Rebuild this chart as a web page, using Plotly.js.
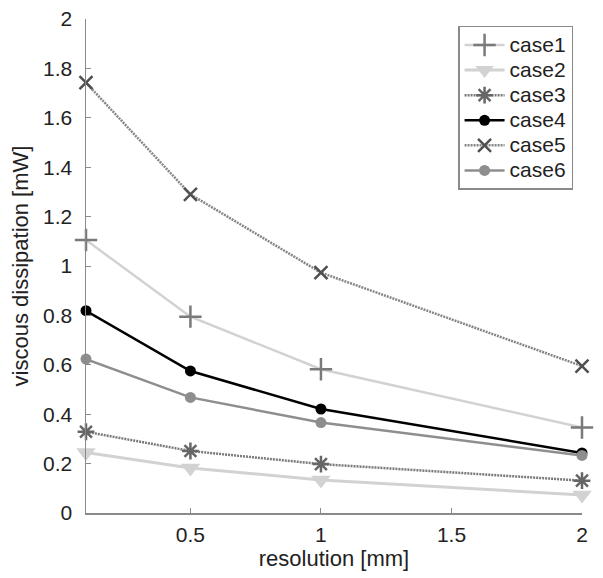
<!DOCTYPE html>
<html>
<head>
<meta charset="utf-8">
<script src="https://cdn.plot.ly/plotly-3.0.1.min.js"></script>
<style>html,body{margin:0;padding:0;background:#fff;}#chart{width:603px;height:578px;}</style>
</head>
<body>
<div id="chart"></div>
<script>
const resolution = [0.1, 0.5, 1, 2];
const case1 = [1.105, 0.795, 0.582, 0.346];
const case2 = [0.245, 0.182, 0.134, 0.073];
const case3 = [0.329, 0.251, 0.198, 0.131];
const case4 = [0.819, 0.575, 0.421, 0.243];
const case5 = [1.742, 1.290, 0.973, 0.595];
const case6 = [0.623, 0.468, 0.366, 0.233];
const names = ['case1','case2','case3','case4','case5','case6'];
const xTicks = [0.5, 1, 1.5, 2];
const yTicks = [0, 0.2, 0.4, 0.6, 0.8, 1, 1.2, 1.4, 1.6, 1.8, 2];

const styles = [
  {line:{color:'#d2d2d2', width:2.5}, marker:{symbol:'cross-thin-open', size:16, color:'#7a7a7a', line:{color:'#7a7a7a', width:2.5}}},
  {line:{color:'#d2d2d2', width:3}, marker:{symbol:'triangle-down', size:17, color:'#d2d2d2', line:{width:0}}},
  {line:{color:'#7a7a7a', width:2.5, dash:'2px,1px'}, marker:{symbol:'asterisk-open', size:14, color:'#666666', line:{color:'#666666', width:2.5}}},
  {line:{color:'#000000', width:2.5}, marker:{symbol:'circle', size:11, color:'#000000', line:{width:0}}},
  {line:{color:'#868686', width:2.5, dash:'2px,1px'}, marker:{symbol:'x-thin-open', size:13, color:'#505050', line:{color:'#505050', width:2.5}}},
  {line:{color:'#8e8e8e', width:2.5}, marker:{symbol:'circle', size:11, color:'#8e8e8e', line:{width:0}}}
];
const series = [case1, case2, case3, case4, case5, case6];
const traces = series.map((ys, i) => ({
  x: resolution, y: ys,
  name: '<span style="font-size:21px">' + names[i] + '</span>',
  type: 'scatter', mode: 'lines+markers',
  line: styles[i].line, marker: styles[i].marker, cliponaxis: false
}));

const font = {family: 'Arial, "Liberation Sans", sans-serif', color: '#222222'};
const f = s => Object.assign({size: s}, font);
const layout = {
  width: 603, height: 578,
  margin: {l: 86, r: 21, t: 19, b: 65},
  paper_bgcolor: '#fff', plot_bgcolor: '#fff',
  showlegend: true,
  font: f(21),
  xaxis: {
    range: [0.1, 2], tickvals: xTicks, ticktext: xTicks.map(String),
    showgrid: false, zeroline: false, showline: true, linecolor: '#8a8a8a', linewidth: 1.5,
    ticks: 'inside', ticklen: 5, tickcolor: '#8a8a8a',
    tickfont: f(21), ticklabelstandoff: 2,
    title: {text: 'resolution [mm]', font: f(22), standoff: 6}
  },
  yaxis: {
    range: [0, 2], tickvals: yTicks, ticktext: yTicks.map(String),
    showgrid: false, zeroline: false, showline: true, linecolor: '#8a8a8a', linewidth: 1.5,
    ticks: 'inside', ticklen: 5, tickcolor: '#8a8a8a',
    tickfont: f(21), ticklabelstandoff: 8,
    title: {text: 'viscous dissipation [mW]', font: f(22), standoff: 8}
  },
  legend: {
    x: 0.982, y: 0.986, xanchor: 'right', yanchor: 'top',
    bgcolor: '#ffffff', bordercolor: '#8a8a8a', borderwidth: 1.5,
    font: f(17), tracegroupgap: 0, itemwidth: 40
  }
};
Plotly.newPlot('chart', traces, layout, {displayModeBar: false, staticPlot: true});
</script>
</body>
</html>
